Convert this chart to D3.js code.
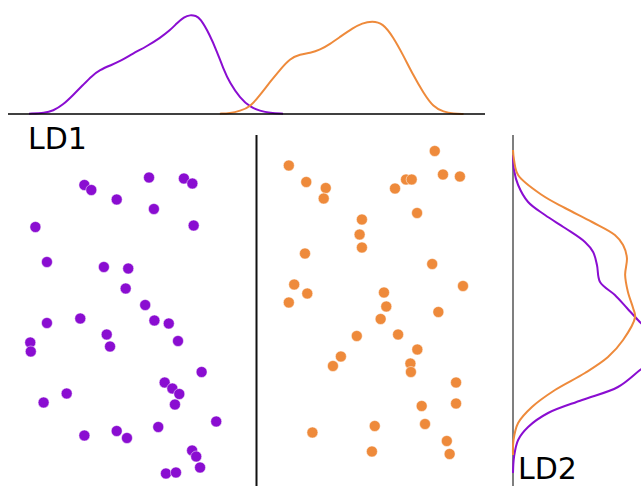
<!DOCTYPE html>
<html>
<head>
<meta charset="utf-8">
<script src="https://cdn.jsdelivr.net/npm/d3@7"></script>
<style>
  body { margin: 0; background: #fff; }
  svg { display: block; font-family: "DejaVu Sans", sans-serif; }
</style>
</head>
<body>
<svg id="chart" width="641" height="486"></svg>
<script>
var groups = ["purple", "orange"];
var colors = ["#8a0dd1", "#ee8a3b"];

// scatter points: [jitter within group, LD2]
var purplePoints = [
  [-0.171, 2.52], [-0.144, 2.42], [0.081, 2.67], [0.217, 2.65], [0.250, 2.55],
  [-0.045, 2.23], [0.100, 2.04], [-0.362, 1.68], [0.255, 1.71], [-0.317, 0.98],
  [-0.095, 0.88], [0.000, 0.85], [-0.010, 0.45], [0.066, 0.12], [-0.317, -0.24],
  [-0.187, -0.15], [0.102, -0.19], [0.158, -0.25], [-0.084, -0.47], [-0.071, -0.71],
  [-0.382, -0.63], [-0.380, -0.81], [0.194, -0.60], [0.286, -1.22], [0.142, -1.43],
  [0.172, -1.55], [0.199, -1.66], [0.182, -1.87], [-0.240, -1.65], [-0.330, -1.83],
  [0.343, -2.21], [0.117, -2.32], [-0.171, -2.49], [-0.045, -2.40], [-0.005, -2.54],
  [0.249, -2.79], [0.265, -2.91], [0.280, -3.13], [0.147, -3.25], [0.186, -3.23]
];
var orangePoints = [
  [0.195, 3.20], [-0.374, 2.91], [-0.306, 2.58], [-0.230, 2.46], [-0.238, 2.25],
  [0.040, 2.45], [0.083, 2.63], [0.105, 2.63], [0.227, 2.73], [0.293, 2.69],
  [0.126, 1.96], [-0.089, 1.83], [-0.098, 1.53], [-0.089, 1.27], [-0.311, 1.15],
  [0.185, 0.94], [-0.353, 0.53], [-0.302, 0.35], [-0.374, 0.17], [-0.003, 0.37],
  [0.305, 0.50], [0.006, 0.09], [0.209, -0.02], [-0.016, -0.16], [-0.109, -0.50],
  [0.052, -0.47], [0.127, -0.77], [-0.171, -0.91], [-0.202, -1.10], [0.100, -1.05],
  [0.102, -1.22], [0.278, -1.43], [0.144, -1.90], [0.278, -1.85], [-0.039, -2.30],
  [0.157, -2.26], [-0.282, -2.43], [0.242, -2.60], [-0.050, -2.81], [0.253, -2.86]
];

// LD1 marginal densities: [LD1, density]
var purpleLD1 = [
  [-5.47, 0.001], [-5.07, 0.003], [-4.87, 0.009], [-4.62, 0.026], [-4.36, 0.055],
  [-4.11, 0.084], [-3.89, 0.110], [-3.69, 0.127], [-3.43, 0.140], [-3.18, 0.152],
  [-2.86, 0.174], [-2.50, 0.196], [-2.18, 0.219], [-1.92, 0.242], [-1.75, 0.262],
  [-1.57, 0.280], [-1.42, 0.286], [-1.27, 0.283], [-1.17, 0.277], [-0.92, 0.228],
  [-0.74, 0.179], [-0.59, 0.133], [-0.42, 0.089], [-0.16, 0.046], [0.09, 0.020],
  [0.34, 0.009], [0.59, 0.003], [0.92, 0.001]
];
var orangeLD1 = [
  [-0.67, 0.001], [-0.42, 0.002], [-0.16, 0.009], [0.09, 0.020], [0.34, 0.055],
  [0.59, 0.092], [0.84, 0.127], [1.09, 0.160], [1.35, 0.172], [1.60, 0.176],
  [1.85, 0.185], [2.10, 0.202], [2.35, 0.222], [2.68, 0.248], [2.91, 0.262],
  [3.16, 0.268], [3.43, 0.262], [3.69, 0.222], [3.94, 0.170], [4.19, 0.113],
  [4.45, 0.061], [4.70, 0.020], [4.96, 0.006], [5.21, 0.001], [5.46, 0.000]
];

// LD2 marginal densities: [LD2, density]
var purpleLD2 = [
  [3.12, 0.000], [2.82, 0.004], [2.52, 0.020], [2.18, 0.059], [1.92, 0.125],
  [1.66, 0.203], [1.38, 0.281], [1.18, 0.313], [0.92, 0.328], [0.58, 0.340],
  [0.32, 0.398], [0.06, 0.445], [-0.18, 0.488], [-0.38, 0.527], [-0.68, 0.574],
  [-0.94, 0.555], [-1.18, 0.496], [-1.52, 0.410], [-1.78, 0.270], [-2.04, 0.137],
  [-2.32, 0.059], [-2.58, 0.020], [-2.92, 0.004], [-3.24, 0.000]
];
var orangeLD2 = [
  [3.22, 0.000], [3.02, 0.004], [2.72, 0.020], [2.32, 0.113], [2.06, 0.203],
  [1.78, 0.309], [1.52, 0.398], [1.32, 0.430], [1.06, 0.445], [0.72, 0.438],
  [0.38, 0.449], [0.06, 0.469], [-0.12, 0.477], [-0.58, 0.430], [-0.92, 0.371],
  [-1.24, 0.281], [-1.58, 0.164], [-1.92, 0.074], [-2.24, 0.020], [-2.58, 0.002],
  [-2.88, 0.000]
];

var svg = d3.select("#chart");

// scales
var xLD1 = d3.scaleLinear().domain([-6, 6]).range([8, 485]);
var yDensTop = d3.scaleLinear().domain([0, 0.3]).range([114, 10]);
var xJit = d3.scaleLinear().domain([-0.5, 1.5]).range([0, 513]);
var yLD2 = d3.scaleLinear().domain([-3.5, 3.5]).range([486, 136]);
var xDensRight = d3.scaleLinear().domain([0, 0.5]).range([513, 641]);

// top marginal
var topLine = d3.line()
  .x(function(d) { return xLD1(d[0]); })
  .y(function(d) { return yDensTop(d[1]); })
  .curve(d3.curveBasis);

[purpleLD1, orangeLD1].forEach(function(series, i) {
  svg.append("path")
    .attr("d", topLine(series))
    .attr("fill", "none")
    .attr("stroke", colors[i])
    .attr("stroke-width", 2);
});

svg.append("line")
  .attr("x1", xLD1.range()[0]).attr("x2", xLD1.range()[1])
  .attr("y1", yDensTop(0)).attr("y2", yDensTop(0))
  .attr("stroke", "#000")
  .attr("stroke-width", 1.5);

// right marginal
var rightLine = d3.line()
  .x(function(d) { return xDensRight(d[1]); })
  .y(function(d) { return yLD2(d[0]); })
  .curve(d3.curveCatmullRom.alpha(0.5));

svg.append("line")
  .attr("x1", xDensRight(0)).attr("x2", xDensRight(0))
  .attr("y1", 135).attr("y2", 486)
  .attr("stroke", "#555")
  .attr("stroke-width", 1.5);

[purpleLD2, orangeLD2].forEach(function(series, i) {
  svg.append("path")
    .attr("d", rightLine(series))
    .attr("fill", "none")
    .attr("stroke", colors[i])
    .attr("stroke-width", 2);
});

// divider between the two groups
svg.append("line")
  .attr("x1", xJit(0.5)).attr("x2", xJit(0.5))
  .attr("y1", 135).attr("y2", 486)
  .attr("stroke", "#111")
  .attr("stroke-width", 2);

// scatter
[purplePoints, orangePoints].forEach(function(points, g) {
  svg.append("g")
    .selectAll("circle")
    .data(points)
    .enter()
    .append("circle")
    .attr("cx", function(d) { return xJit(g + d[0]); })
    .attr("cy", function(d) { return yLD2(d[1]); })
    .attr("r", 5.5)
    .attr("fill", colors[g])
    .attr("stroke", "#fff")
    .attr("stroke-width", 0.5);
});

// axis labels
svg.append("text")
  .attr("x", 28).attr("y", 149)
  .attr("font-size", 30)
  .attr("fill", "#000")
  .text("LD1");

svg.append("text")
  .attr("x", 518).attr("y", 479)
  .attr("font-size", 30)
  .attr("fill", "#000")
  .text("LD2");
</script>
</body>
</html>
